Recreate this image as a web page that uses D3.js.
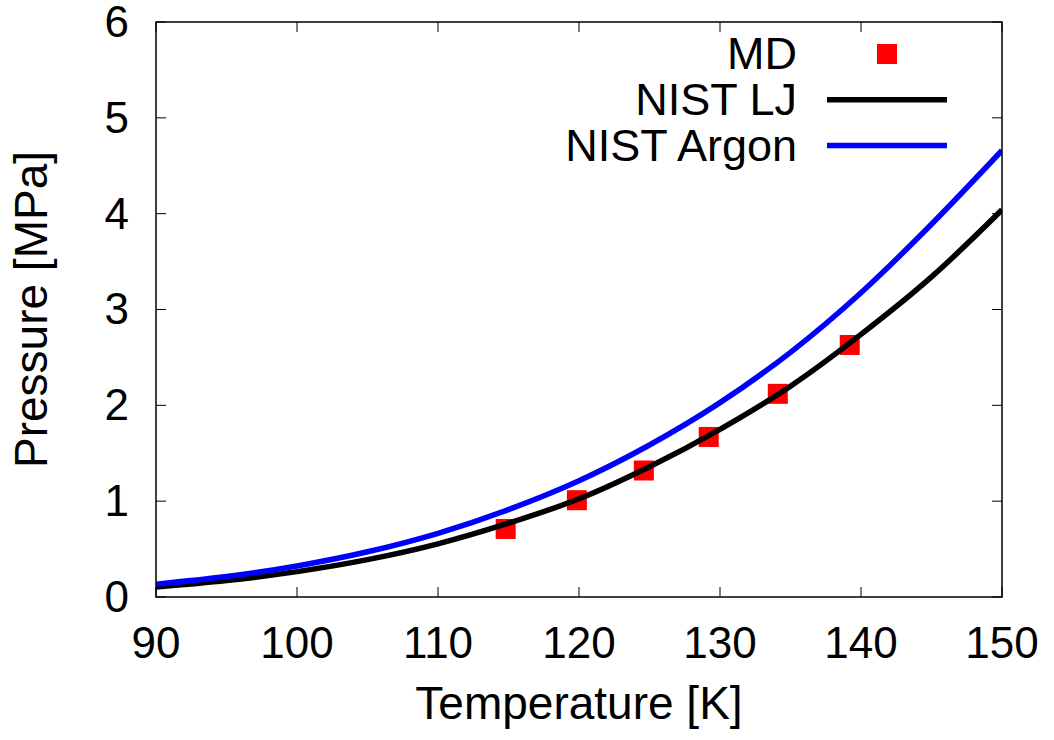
<!DOCTYPE html>
<html>
<head>
<meta charset="utf-8">
<script src="https://cdn.jsdelivr.net/npm/d3@7"></script>
<style>
  body { margin: 0; background: #fff; }
  text { font-family: "Liberation Sans", Arial, sans-serif; fill: #000; }
</style>
</head>
<body>
<div id="chart"></div>
<script>
// MD simulation points
let mdTemp = [114.8, 119.85, 124.6, 129.2, 134.1, 139.2]
let mdPress = [0.71, 1.01, 1.32, 1.67, 2.12, 2.63]

// NIST curves, every 5 K
let nistTemp = [90, 95, 100, 105, 110, 115, 120, 125, 130, 135, 140, 145, 150]
let ljPress = [0.105, 0.172, 0.265, 0.39, 0.555, 0.77, 1.025, 1.36, 1.75, 2.2, 2.74, 3.34, 4.04]
let argonPress = [0.134, 0.213, 0.324, 0.472, 0.665, 0.912, 1.213, 1.586, 2.028, 2.553, 3.175, 3.89, 4.66]

let xTicks = [90, 100, 110, 120, 130, 140, 150]
let yTicks = [0, 1, 2, 3, 4, 5, 6]
let legendNames = ["MD", "NIST LJ", "NIST Argon"]

let margin = {top: 22, right: 52, bottom: 143, left: 156},
    width = 1054 - margin.left - margin.right,
    height = 740 - margin.top - margin.bottom;

let svg = d3.select("#chart")
    .append("svg")
    .attr("width", 1054)
    .attr("height", 740)
    .append("g")
    .attr("transform", "translate(" + margin.left + "," + margin.top + ")");

let x = d3.scaleLinear().domain([90, 150]).range([0, width])
let y = d3.scaleLinear().domain([0, 6]).range([height, 0])

svg.append("defs").append("clipPath")
    .attr("id", "clip")
    .append("rect")
    .attr("width", width)
    .attr("height", height)

// ticks on all four sides, pointing inward
let tickLen = 10
let ticks = svg.append("g").attr("stroke", "#000").attr("stroke-width", 1)
xTicks.forEach(function(t) {
    ticks.append("line").attr("x1", x(t)).attr("x2", x(t)).attr("y1", height).attr("y2", height - tickLen)
    ticks.append("line").attr("x1", x(t)).attr("x2", x(t)).attr("y1", 0).attr("y2", tickLen)
})
yTicks.forEach(function(t) {
    ticks.append("line").attr("x1", 0).attr("x2", tickLen).attr("y1", y(t)).attr("y2", y(t))
    ticks.append("line").attr("x1", width).attr("x2", width - tickLen).attr("y1", y(t)).attr("y2", y(t))
})

// tick labels
svg.append("g").selectAll("text")
    .data(xTicks)
    .join("text")
    .attr("x", d => x(d))
    .attr("y", height + 61)
    .attr("text-anchor", "middle")
    .attr("font-size", 44)
    .text(d => d)

svg.append("g").selectAll("text")
    .data(yTicks)
    .join("text")
    .attr("x", -27)
    .attr("y", d => y(d))
    .attr("dy", "0.34em")
    .attr("text-anchor", "end")
    .attr("font-size", 44)
    .text(d => d)

// axis titles
svg.append("text")
    .attr("x", width / 2)
    .attr("y", height + 122)
    .attr("text-anchor", "middle")
    .attr("font-size", 46)
    .text("Temperature [K]")

svg.append("text")
    .attr("transform", "translate(" + (47 - margin.left) + "," + (height / 2) + ") rotate(-90)")
    .attr("text-anchor", "middle")
    .attr("font-size", 46)
    .text("Pressure [MPa]")

let plot = svg.append("g").attr("clip-path", "url(#clip)")

// MD squares
plot.append("g").selectAll("rect")
    .data(mdTemp)
    .join("rect")
    .attr("x", (d, i) => x(d) - 10)
    .attr("y", (d, i) => y(mdPress[i]) - 10)
    .attr("width", 20)
    .attr("height", 20)
    .attr("fill", "#ff0000")

let line = d3.line()
    .x((d, i) => x(nistTemp[i]))
    .y(d => y(d))
    .curve(d3.curveMonotoneX)

plot.append("path")
    .datum(ljPress)
    .attr("fill", "none")
    .attr("stroke", "#000")
    .attr("stroke-width", 5.5)
    .attr("d", line)

plot.append("path")
    .datum(argonPress)
    .attr("fill", "none")
    .attr("stroke", "#0000ff")
    .attr("stroke-width", 5.5)
    .attr("d", line)

// frame
svg.append("rect")
    .attr("width", width)
    .attr("height", height)
    .attr("fill", "none")
    .attr("stroke", "#000")
    .attr("stroke-width", 1.5)

// legend
let legend = svg.append("g").attr("transform", "translate(" + (797 - margin.left) + "," + (54 - margin.top) + ")")
let rowGap = 45.7
legendNames.forEach(function(name, i) {
    legend.append("text")
        .attr("x", 0)
        .attr("y", i * rowGap)
        .attr("dy", "0.34em")
        .attr("text-anchor", "end")
        .attr("font-size", 45)
        .text(name)
})
legend.append("rect")
    .attr("x", 80)
    .attr("y", -10)
    .attr("width", 20)
    .attr("height", 20)
    .attr("fill", "#ff0000")
legend.append("line")
    .attr("x1", 30).attr("x2", 150)
    .attr("y1", rowGap).attr("y2", rowGap)
    .attr("stroke", "#000").attr("stroke-width", 5.5)
legend.append("line")
    .attr("x1", 30).attr("x2", 150)
    .attr("y1", 2 * rowGap).attr("y2", 2 * rowGap)
    .attr("stroke", "#0000ff").attr("stroke-width", 5.5)
</script>
</body>
</html>
